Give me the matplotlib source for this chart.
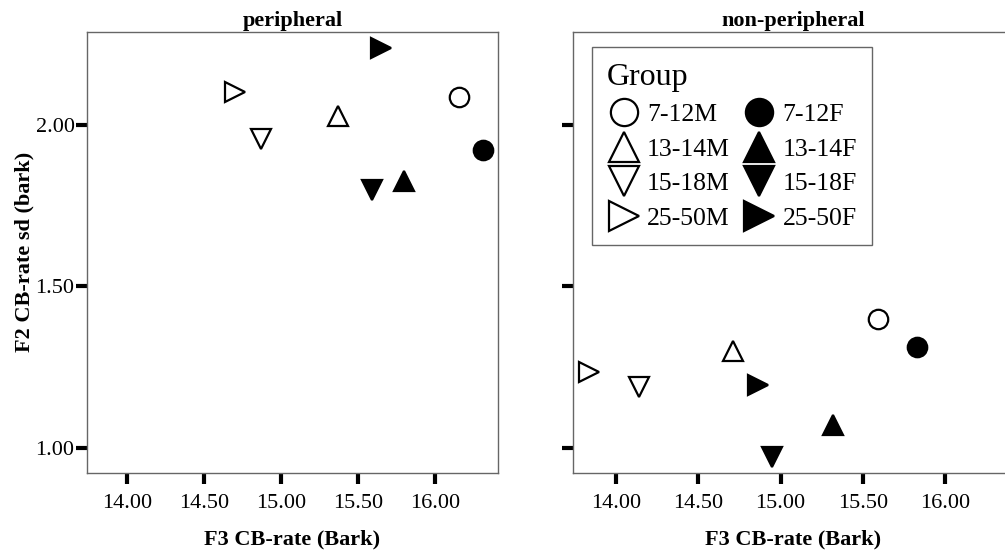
import numpy as np
import matplotlib.pyplot as plt
from matplotlib.ticker import FormatStrFormatter

plt.rcParams['font.family'] = ['Liberation Serif', 'DejaVu Serif']

groups = ['7-12M', '13-14M', '15-18M', '25-50M', '7-12F', '13-14F', '15-18F', '25-50F']
markers = ['o', '^', 'v', '>', 'o', '^', 'v', '>']
filled = [False, False, False, False, True, True, True, True]

# peripheral
periph_x = [16.16, 15.37, 14.87, 14.70, 16.31, 15.80, 15.59, 15.65]
periph_y = [2.086, 2.028, 1.956, 2.103, 1.923, 1.828, 1.800, 2.239]
# non-peripheral
nonper_x = [15.59, 14.71, 14.14, 13.84, 15.83, 15.32, 14.95, 14.86]
nonper_y = [1.399, 1.298, 1.189, 1.233, 1.313, 1.069, 0.971, 1.194]

xticks = [14.0, 14.5, 15.0, 15.5, 16.0]
yticks = [1.0, 1.5, 2.0]

fig = plt.figure(figsize=(10.05, 5.52), dpi=100)
ax1 = fig.add_axes([0.0866, 0.1437, 0.4089, 0.7989])
ax2 = fig.add_axes([0.5701, 0.1437, 0.4378, 0.7989])

panels = [(ax1, periph_x, periph_y, 'peripheral'),
          (ax2, nonper_x, nonper_y, 'non-peripheral')]

for ax, xs, ys, title in panels:
    for g, m, f, x, y in zip(groups, markers, filled, xs, ys):
        ax.plot(x, y, linestyle='none', marker=m, markersize=14 if m == 'o' else 15,
                markerfacecolor='black' if f else 'white', markeredgecolor='black',
                markeredgewidth=1.6, label=g)
    ax.set_xlim(13.74, 16.41)
    ax.set_ylim(0.922, 2.29)
    ax.set_xticks(xticks)
    ax.set_yticks(yticks)
    ax.xaxis.set_major_formatter(FormatStrFormatter('%.2f'))
    ax.yaxis.set_major_formatter(FormatStrFormatter('%.2f'))
    ax.tick_params(direction='out', length=8, width=3, color='black', labelsize=16)
    ax.tick_params(axis='y', pad=1)
    ax.tick_params(axis='x', pad=7)
    for s in ax.spines.values():
        s.set_color('#666666')
        s.set_linewidth(1)
    ax.set_title(title, fontsize=16, fontweight='bold', pad=4)
    ax.set_xlabel('F3 CB-rate (Bark)', fontsize=16, fontweight='bold', labelpad=12)

ax2.tick_params(axis='y', labelleft=False)
ax1.set_ylabel('F2 CB-rate sd (bark)', fontsize=16, fontweight='bold', labelpad=1)

leg = ax2.legend(ncol=2, title='Group', loc='upper left', bbox_to_anchor=(0.0425, 0.9646),
                 borderaxespad=0, fontsize=18.5, title_fontsize=23, alignment='left',
                 fancybox=False, edgecolor='#666666', framealpha=1, markerscale=1.4,
                 handletextpad=0.25, columnspacing=0.5, labelspacing=0.45,
                 handlelength=1.3, borderpad=0.6)
leg.get_frame().set_linewidth(1)

fig.savefig('out.png', dpi=100)
